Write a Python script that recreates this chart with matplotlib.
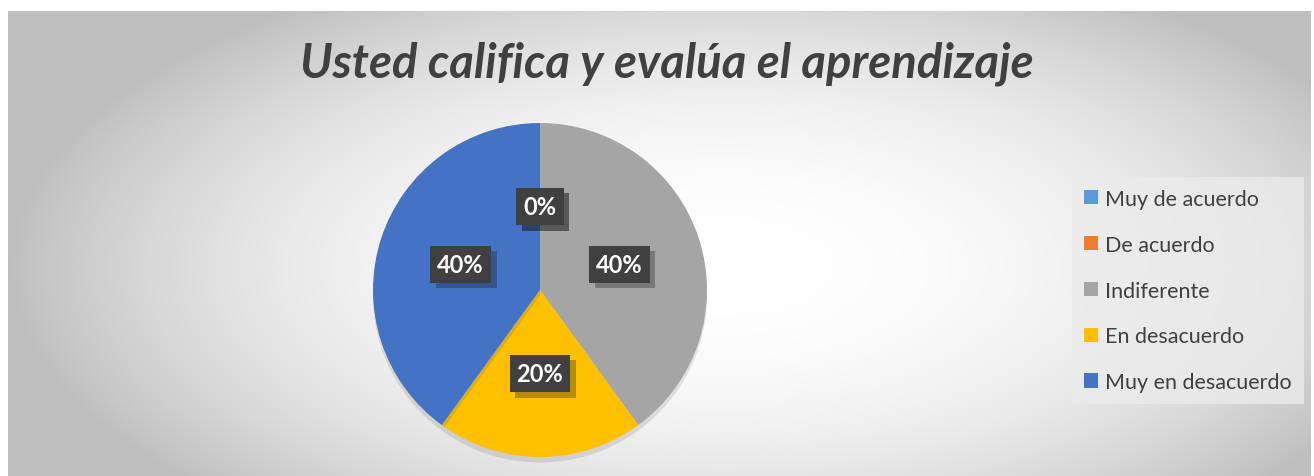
import numpy as np
import matplotlib.pyplot as plt
import matplotlib.patheffects as pe
from matplotlib.patches import Patch

categories = ['Muy de acuerdo', 'De acuerdo', 'Indiferente', 'En desacuerdo', 'Muy en desacuerdo']
values = [0, 0, 40, 20, 40]
colors = ['#5B9BD5', '#ED7D31', '#A5A5A5', '#FFC000', '#4472C4']
title = 'Usted califica y evalúa el aprendizaje'

plt.rcParams['font.family'] = ['Lato', 'DejaVu Sans']

W, H = 1314, 477
fig = plt.figure(figsize=(W / 100, H / 100), dpi=100)
fig.patch.set_facecolor('white')

# radial gradient background of the chart area
bg = fig.add_axes([8 / W, 0, (1311 - 8) / W, (477 - 12) / H])
bg.set_axis_off()
xx, yy = np.meshgrid(np.linspace(-1, 1, 600), np.linspace(-1, 1, 240))
cx, cy = 0.1, 0.1
r = np.sqrt(((xx - cx) / 1.1) ** 2 + ((yy - cy) / 1.4) ** 2)
r = np.clip(r / 1.0, 0, 1)
g = 1.0 - 0.25 * r ** 2.2
bg.imshow(np.dstack([g, g, g]), aspect='auto', extent=[0, 1, 0, 1], interpolation='bilinear')
bg.set_xlim(0, 1)
bg.set_ylim(0, 1)

# pie
R = 167
ax = fig.add_axes([(540 - R) / W, (477 - 291 - R) / H, 2 * R / W, 2 * R / H])
wedges, texts, autotexts = ax.pie(values, colors=colors, startangle=90, counterclock=False,
                                  autopct='%1.0f%%', pctdistance=0.5, radius=1,
                                  wedgeprops=dict(linewidth=0))
for w in wedges:
    w.set_path_effects([pe.SimplePatchShadow(offset=(0, -4), shadow_rgbFace='#000000', alpha=0.1),
                        pe.Normal()])
for t in autotexts:
    t.set_color('white')
    t.set_fontsize(17)
    t.set_fontweight('bold')
    t.set_bbox(dict(boxstyle='square,pad=0.3', facecolor='#404040', edgecolor='none'))
    t.get_bbox_patch().set_path_effects([pe.SimplePatchShadow(offset=(4, -4), alpha=0.3),
                                         pe.Normal()])
ax.set_xlim(-1, 1)
ax.set_ylim(-1, 1)
ax.set_aspect('equal')

fig.text(667 / W, 1 - 64 / H, title, ha='center', va='center', fontsize=34,
         fontweight='bold', fontstyle='italic', color='#404040')

handles = [Patch(facecolor=c, edgecolor='none') for c in colors]
leg = fig.legend(handles, categories, loc='upper left', bbox_to_anchor=(1072 / W, 1 - 178 / H),
                 fontsize=15.5, frameon=True, fancybox=False, labelspacing=1.2,
                 handlelength=0.65, handleheight=0.65, handletextpad=0.35, borderpad=0.55,
                 borderaxespad=0, labelcolor='#404040')
leg.get_frame().set_facecolor('#ebebeb')
leg.get_frame().set_edgecolor('none')
leg.get_frame().set_alpha(0.8)

fig.savefig('out.png', dpi=100)
